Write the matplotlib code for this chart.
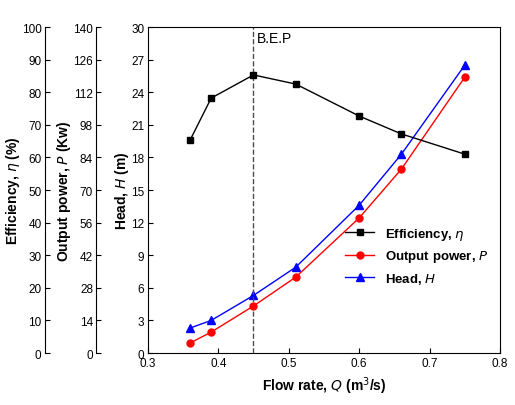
import matplotlib
matplotlib.use("Agg")
import matplotlib.pyplot as plt
import numpy as np

flow = [0.36, 0.39, 0.45, 0.51, 0.60, 0.66, 0.75]
efficiency = [65.3, 78.2, 85.3, 82.5, 72.7, 67.2, 61.0]
power = [4.3, 9.0, 20.2, 32.6, 58.0, 79.0, 118.5]
head = [2.3, 3.0, 5.3, 7.9, 13.6, 18.3, 26.5]

plt.rcParams['font.family'] = ['Liberation Sans', 'DejaVu Sans']
plt.rcParams['font.size'] = 8.5
fig = plt.figure(figsize=(5.15, 4.06), dpi=100)
ax = fig.add_axes([0.287, 0.128, 0.684, 0.803])
axp = ax.twinx()
axe = ax.twinx()
for a, off in [(axp, 37), (axe, 74)]:
    a.spines['left'].set_visible(True)
    a.spines['left'].set_position(('outward', off))
    a.spines['right'].set_visible(False)
    a.spines['top'].set_visible(False)
    a.spines['bottom'].set_visible(False)
    a.yaxis.set_ticks_position('left')
    a.yaxis.set_label_position('left')

ax.set_xlim(0.3, 0.8)
ax.set_xticks(np.arange(0.3, 0.81, 0.1))
ax.set_ylim(0, 30); ax.set_yticks(range(0, 31, 3))
axp.set_ylim(0, 140); axp.set_yticks(range(0, 141, 14))
axe.set_ylim(0, 100); axe.set_yticks(range(0, 101, 10))
for a in (ax, axp, axe):
    a.tick_params(direction='in', labelsize=8.5, pad=2.5)

le, = axe.plot(flow, efficiency, 'k-s', ms=5, lw=1, label=r'Efficiency, $\eta$')
lp, = axp.plot(flow, power, '-o', color='red', mfc='red', ms=5, lw=1, label=r'Output power, $\it{P}$')
lh, = ax.plot(flow, head, '-^', color='blue', ms=6, lw=1, label=r'Head, $\it{H}$')
ax.axvline(0.45, color='0.3', ls='--', lw=1)
ax.text(0.455, 28.6, 'B.E.P', fontsize=10)

ax.set_xlabel(r'Flow rate, $\bf{\it{Q}}$ (m$^3$/s)', fontweight='bold', fontsize=10)
ax.set_ylabel(r'Head, $\it{H}$ (m)', fontweight='bold', fontsize=10, labelpad=0)
axp.set_ylabel(r'Output power, $\it{P}$ (Kw)', fontweight='bold', fontsize=10, labelpad=0)
axe.set_ylabel(r'Efficiency, $\eta$ (%)', fontweight='bold', fontsize=10, labelpad=0)

leg = ax.legend([le, lp, lh], [l.get_label() for l in (le, lp, lh)], loc='lower right',
                bbox_to_anchor=(1.0, 0.17), frameon=False,
                prop={'weight': 'bold', 'size': 9.5}, handlelength=2.2)
fig.savefig('out.png', dpi=100)
